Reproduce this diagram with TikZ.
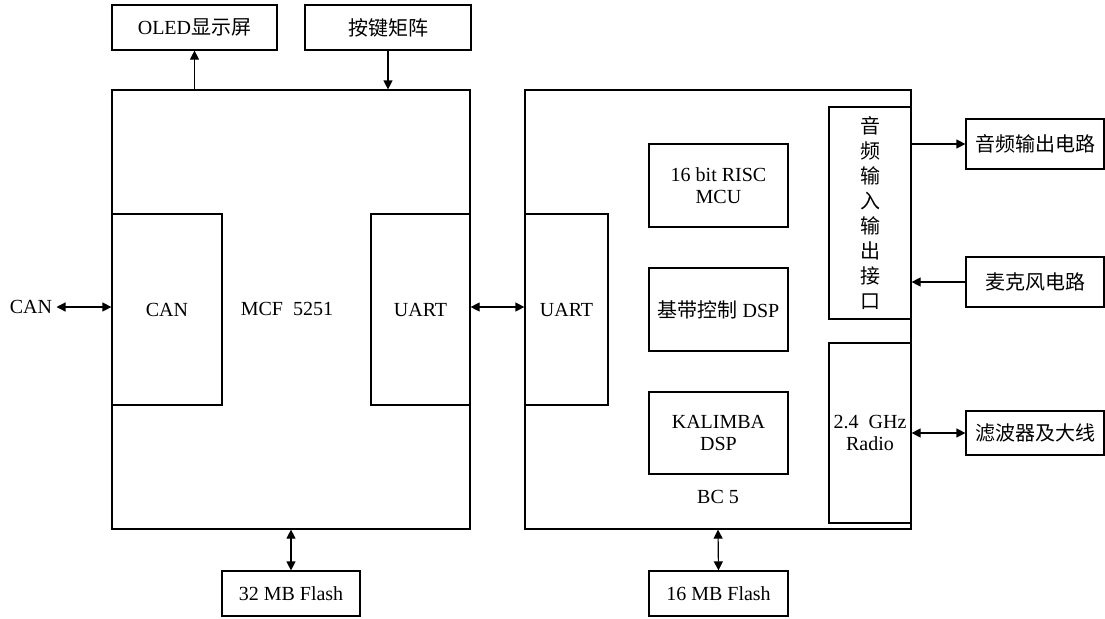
\documentclass[tikz,border=0pt]{standalone}
\usepackage{fontspec}
\setmainfont{Liberation Serif}
\newfontfamily\cjk{Noto Sans CJK SC}
\usetikzlibrary{arrows.meta}
\tikzset{
  blk/.style 2 args={draw, line width=0.6pt, inner sep=0pt, align=center,
    minimum width=#1*0.5pt, minimum height=#2*0.5pt},
  lbl/.style={inner sep=0pt, align=center},
  conn/.style={line width=0.6pt},
  >={Triangle[length=4.5pt,width=4.5pt]}
}

\begin{document}
\begin{tikzpicture}[x=0.5pt, y=-0.5pt, font=\fontsize{10}{11}\selectfont]
\useasboundingbox (0,0) rectangle (1105,618);

% processors
\node[blk={358}{439}] (mcf) at (291,309.5) {};
\node[blk={386}{439}] (bc5) at (718,309.5) {};

% MCF 5251 blocks
\node[blk={110}{191}] (canin) at (167,309.5) {CAN};
\node[blk={99}{191}] (uartl) at (420.5,309.5) {UART};
\node[lbl] (mcflabel) at (287,309) {MCF\ \ 5251};

% BC 5 blocks
\node[blk={83}{191}] (uartr) at (566.5,309.5) {UART};
\node[blk={139}{83}] (risc) at (718.5,185.5) {16 bit RISC\\MCU};
\node[blk={139}{83}] (baseband) at (718.5,309.5) {{\cjk 基带控制} DSP};
\node[blk={139}{82}] (kalimba) at (718.5,433) {KALIMBA\\DSP};
\node[lbl] (bclabel) at (718,497) {BC 5};
\node[blk={82}{212}, font=\cjk\fontsize{10}{12.5}\selectfont] (audio) at (870,213)
  {音\\频\\输\\入\\输\\出\\接\\口};
\node[blk={82}{180}] (radio) at (870,433) {2.4\ \ GHz\\Radio};

% peripherals
\node[blk={165}{45}] (oled) at (194.5,27.5) {OLED{\cjk 显示屏}};
\node[blk={166}{45}] (keys) at (388,27.5) {\cjk 按键矩阵};
\node[blk={138}{45}] (flash32) at (291,593.5) {32 MB Flash};
\node[blk={139}{45}] (flash16) at (718.5,593.5) {16 MB Flash};
\node[blk={138}{50}] (aout) at (1035,144) {\cjk 音频输出电路};
\node[blk={138}{50}] (mic) at (1035,282) {\cjk 麦克风电路};
\node[blk={138}{44}] (filter) at (1035,433) {\cjk 滤波器及大线};
\node[lbl] (canext) at (31,307) {CAN};

% connections
\draw[conn,->] (oled.south |- mcf.north) -- (oled.south);
\draw[conn,->] (keys.south) -- (keys.south |- mcf.north);
\draw[conn,<->] (mcf.south) -- (flash32.north);
\draw[conn,<->] (bc5.south) -- (flash16.north);
\draw[conn,<->] ([xshift=2pt]canext.east) -- (canext.east -| mcf.west);
\draw[conn,<->] (uartl.east |- canext) -- (uartr.west |- canext);
\draw[conn,->] (aout.west -| audio.east) -- (aout.west);
\draw[conn,->] (mic.west) -- (mic.west -| audio.east);
\draw[conn,<->] (filter.west) -- (filter.west -| radio.east);
\end{tikzpicture}
\end{document}
